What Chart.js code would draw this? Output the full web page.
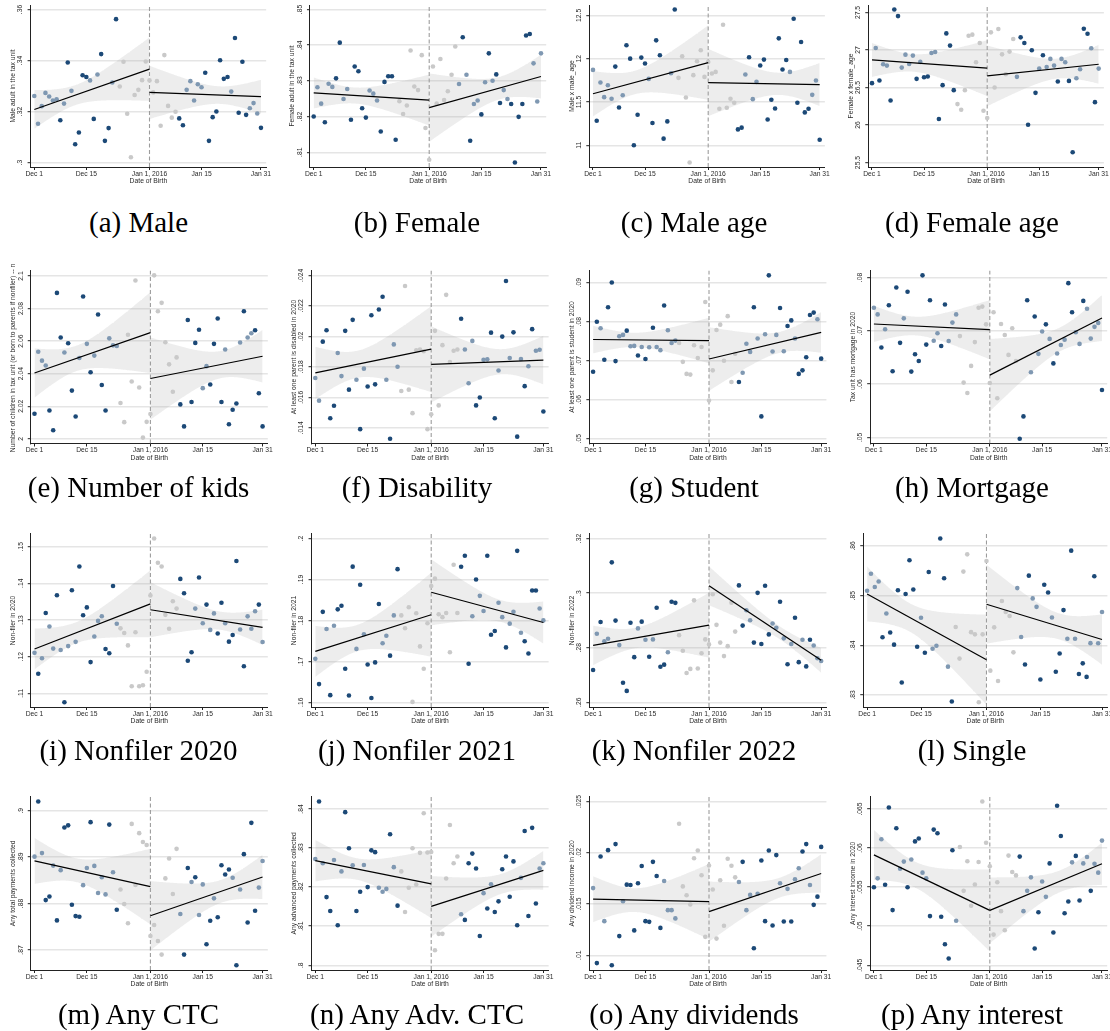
<!DOCTYPE html>
<html>
<head>
<meta charset="utf-8">
<script src="https://cdn.jsdelivr.net/npm/chart.js@4.4.1/dist/chart.umd.min.js"></script>
<style>
  html, body { margin: 0; padding: 0; background: #fff; }
  #page { position: relative; width: 1110px; height: 1031px; overflow: hidden; background: #fff; }
  #page canvas { position: absolute; }
  .cap {
    position: absolute; white-space: nowrap; color: #000;
    font-family: "Liberation Serif", "Times New Roman", serif;
    font-size: 29px; line-height: 29px; transform: translateX(-50%);
  }
</style>
</head>
<body>
<div id="page"></div>
<script>
// Day index: 0 = Dec 1, 31 = Jan 1 2016, 61 = Jan 31
const dayTicks = [0, 14, 31, 45, 61];
const dayTickLabels = ['Dec 1', 'Dec 15', 'Jan 1, 2016', 'Jan 15', 'Jan 31'];
const cutoffDay = 31;
const lastDay = 61;
const donutFirst = 23, donutLast = 38;   // days left out of the linear fits

// Daily means, Dec 1 .. Jan 31, and fitted lines [left start, left end, right start, right end]
const maleAdult = [.3261,.3152,.3221,.3273,.3259,.3243,.3248,.3166,.3231,.3392,.3281,.3072,.3118,.3342,.3335,.3322,.3171,.3345,.3425,.3085,.3135,.3314,.3562,.3298,.3395,.3191,.3021,.3265,.3285,.3323,.3396,
  .3322,.3275,.3319,.3144,.3421,.3222,.3176,.3199,.3173,.3146,.3285,.3319,.3243,.3307,.3295,.3352,.3085,.3178,.3200,.3401,.3328,.3335,.3278,.3488,.3195,.3395,.3187,.3213,.3233,.3192,.3136];
const maleAdultFit = [.3208, .3366, .3275, .3258];
const maleAdultTicks = [.30, .32, .34, .36];

const femaleAdult = [.8200,.8282,.8236,.8184,.8292,.8283,.8307,.8407,.8249,.8277,.8191,.8340,.8327,.8223,.8197,.8273,.8264,.8245,.8158,.8297,.8313,.8313,.8135,.8243,.8207,.8231,.8385,.8284,.8274,.8372,.8168,
  .8079,.8340,.8236,.8361,.8246,.8271,.8317,.8396,.8291,.8422,.8317,.8132,.8235,.8245,.8206,.8296,.8377,.8300,.8318,.8238,.8274,.8249,.8235,.8071,.8199,.8235,.8427,.8431,.8349,.8242,.8377];
const femaleAdultFit = [.8266, .8246, .8225, .8312];
const femaleAdultTicks = [.81, .82, .83, .84, .85];

const maleAge = [11.871,11.284,11.725,11.556,11.694,11.537,11.909,11.437,11.579,12.155,12.001,11.000,11.353,12.013,11.944,11.767,11.257,12.212,12.040,11.077,11.276,11.833,12.569,11.779,12.028,11.553,10.801,11.810,11.971,12.097,11.790,
  11.963,11.829,11.848,11.422,12.393,11.434,11.537,11.491,11.184,11.204,11.817,12.017,11.533,11.733,11.921,11.990,11.299,11.526,11.426,12.235,11.875,11.986,11.848,12.462,11.491,12.193,11.380,11.422,11.583,11.748,11.065];
const maleAgeFit = [11.595, 11.955, 11.725, 11.702];
const maleAgeTicks = [11, 11.5, 12, 12.5];

const femaleAge = [26.558,27.027,26.593,26.810,26.792,26.327,27.540,27.451,26.765,26.938,26.814,26.925,26.615,26.841,26.637,26.646,26.960,26.973,26.080,26.531,27.221,27.058,26.465,26.279,26.204,26.465,27.190,27.204,26.836,27.093,26.190,
  26.093,27.235,26.500,27.279,26.942,26.677,26.978,27.146,26.642,27.168,27.093,26.004,26.996,26.429,26.752,26.929,26.774,26.881,26.792,26.580,26.881,26.836,26.588,25.637,26.624,26.743,27.283,27.217,27.022,26.305,26.752];
const femaleAgeFit = [26.867, 26.757, 26.655, 26.810];
const femaleAgeTicks = [25.5, 26, 26.5, 27, 27.5];

const numKids = [2.0154,2.0535,2.0480,2.0450,2.0174,2.0052,2.0896,2.0622,2.0530,2.0587,2.0296,2.0137,2.0496,2.0874,2.0583,2.0409,2.0511,2.0763,2.0330,2.0174,2.0617,2.0574,2.0570,2.0220,2.0102,2.0639,2.0352,2.0972,2.0315,2.0007,2.0104,
  2.0152,2.1004,2.0783,2.0835,2.0593,2.0457,2.0289,2.0500,2.0211,2.0076,2.0730,2.0226,2.0589,2.0670,2.0311,2.0446,2.0333,2.0583,2.0739,2.0226,2.0548,2.0089,2.0178,2.0217,2.0591,2.0783,2.0622,2.0648,2.0667,2.0280,2.0076];
const numKidsFit = [2.0404, 2.0652, 2.0370, 2.0507];
const numKidsTicks = [2, 2.02, 2.04, 2.06, 2.08, 2.1];

const disabled = [.01727,.01578,.01965,.02040,.01463,.01545,.01891,.01739,.02036,.01650,.02108,.01715,.01391,.01788,.01671,.02138,.01685,.02176,.02260,.01715,.01328,.01947,.01800,.01641,.02330,.01650,.01496,.01909,.01914,.01902,.01391,
  .01489,.02036,.01547,.01942,.02272,.01832,.01905,.01914,.02115,.01914,.01692,.01970,.01547,.01599,.01846,.01849,.02024,.01463,.01776,.01998,.02363,.01858,.02026,.01342,.01851,.01673,.01804,.02047,.01905,.01912,.01507];
const disabledFit = [.01760, .01916, .01816, .01844];
const disabledTicks = [.014, .016, .018, .02, .022, .024];

const student = [.06718,.08000,.07836,.07027,.08373,.09009,.06991,.07627,.07664,.07773,.07373,.07382,.07136,.07355,.07045,.07345,.07845,.07355,.07273,.08418,.07782,.07455,.07518,.07455,.06973,.06664,.06645,.07400,.07073,.07355,.08509,
  .05982,.06755,.07791,.07927,.07000,.08145,.06455,.07182,.06455,.06691,.07436,.07227,.08373,.07573,.05573,.07682,.09191,.07236,.07664,.08355,.07245,.07891,.08036,.07573,.06664,.06755,.07091,.08173,.08236,.08064,.07055];
const studentFit = [.07545, .07518, .07045, .07727];
const studentTicks = [.05, .06, .07, .08, .09];

const mortgage = [.07433,.07307,.06687,.07027,.07480,.06240,.07813,.06773,.07233,.07733,.06233,.06560,.06433,.08040,.06740,.07573,.06813,.06953,.06713,.07493,.06807,.07153,.07307,.06900,.06027,.05833,.06340,.06787,.07433,.07453,.07120,
  .06020,.07347,.05733,.07127,.06920,.06547,.07047,.06433,.04973,.05393,.07573,.06220,.07267,.06567,.06987,.07120,.06847,.06387,.06573,.06733,.06833,.07893,.07347,.06973,.06753,.07560,.07413,.06853,.07073,.07147,.05887];
const mortgageFit = [.07127, .07020, .06167, .07240];
const mortgageTicks = [.05, .06, .07, .08];

const nonfiler2020 = [.12104,.11533,.11959,.13189,.12821,.12220,.13673,.12182,.10758,.12288,.13809,.12404,.14458,.13131,.13344,.11852,.12550,.12976,.13102,.12211,.12094,.13925,.12898,.12772,.12647,.12308,.11194,.12666,.11194,.11223,.11591,
  .1367,.1522,.1456,.1446,.1314,.1276,.1351,.1331,.1412,.1373,.1189,.1212,.1331,.1416,.1291,.1342,.1273,.1318,.1263,.1347,.1291,.1241,.1259,.1461,.1274,.1174,.1310,.1276,.1324,.1342,.1240];
const nonfiler2020Fit = [.1221, .1344, .1328, .1280];
const nonfiler2020Ticks = [.11, .12, .13, .14, .15];

const nonfiler2021 = [.17061,.16443,.18209,.17791,.16174,.17870,.18270,.18357,.16817,.16165,.19313,.17304,.18870,.17660,.16922,.16104,.16974,.18400,.17443,.17626,.17139,.18122,.19252,.18122,.17809,.18322,.16009,.18174,.17365,.16817,.17930,
  .1884,.1902,.1815,.1808,.1818,.1722,.1936,.1818,.1931,.1958,.1694,.1810,.1900,.1860,.1823,.1958,.1765,.1774,.1843,.1808,.1734,.1792,.1821,.1970,.1770,.1749,.1719,.1873,.1873,.1829,.1800];
const nonfiler2021Fit = [.17243, .18139, .18687, .17948];
const nonfiler2021Ticks = [.16, .17, .18, .19, .2];

const nonfiler2022 = [.27184,.28512,.28941,.28238,.28330,.31128,.28993,.28095,.26716,.26416,.28915,.27653,.28707,.28954,.28290,.27666,.28303,.29462,.27301,.27379,.27835,.29683,.29644,.28460,.27887,.27070,.27223,.29735,.27236,.27796,.28303,
  .28121,.29957,.28837,.28186,.27692,.28056,.29650,.28590,.30282,.28810,.29371,.29006,.28186,.30009,.28134,.30269,.28486,.28889,.28733,.29683,.28343,.27392,.28134,.29097,.27470,.28290,.27314,.28290,.28082,.27614,.27510];
const nonfiler2022Fit = [.28082, .28824, .30269, .27536];
const nonfiler2022Ticks = [.26, .28, .3, .32];

const single = [.85098,.85438,.85172,.85283,.84160,.84640,.84256,.84012,.85106,.83251,.85032,.85712,.85121,.83968,.84552,.83850,.85475,.83930,.83990,.86148,.85350,.83569,.82867,.84367,.83731,.85483,.85830,.84263,.84219,.82852,.84219,
  .85697,.83488,.84360,.83280,.84892,.84670,.84589,.83857,.85150,.84167,.83613,.85401,.84943,.84773,.83310,.85217,.85062,.84559,.83465,.83835,.84707,.84130,.85904,.84130,.83421,.83635,.83362,.84042,.85390,.84040,.84670];
const singleFit = [.85032, .83709, .84825, .84116];
const singleTicks = [.83, .84, .85, .86];

const anyCtc = [.89010,.90200,.89087,.88074,.88151,.88818,.87637,.88719,.89639,.89685,.87974,.87729,.87714,.88396,.88765,.89754,.88811,.88228,.88565,.88197,.89701,.88673,.87867,.88304,.87990,.87575,.89716,.88400,.89517,.89325,.89263,
  .87300,.87537,.87192,.86900,.88542,.88972,.88205,.89179,.87775,.86900,.88765,.88465,.88565,.87752,.88412,.87123,.87629,.88112,.87706,.88826,.88627,.88734,.88557,.86670,.88304,.89064,.87591,.89739,.87844,.88343,.88918];
const anyCtcFit = [.88918, .88366, .87737, .88573];
const anyCtcTicks = [.87, .88, .89, .9];

const anyAdvCtc = [.82721,.84192,.82612,.81744,.81388,.82694,.81023,.82402,.83918,.82995,.82557,.81388,.81881,.82566,.82000,.82941,.82895,.81982,.81881,.81954,.83352,.82511,.81525,.82402,.81361,.81982,.82995,.82064,.82877,.83890,.82886,
  .82900,.80384,.80804,.80804,.82220,.83590,.82612,.82785,.81306,.81160,.82612,.82858,.82475,.80749,.81845,.81452,.82073,.81361,.81635,.82457,.82785,.81753,.82658,.81023,.82237,.83434,.81260,.83516,.81580,.82475,.82612];
const anyAdvCtcFit = [.82676, .82082, .81507, .82429];
const anyAdvCtcTicks = [.8, .81, .82, .83, .84];

const anyDividends = [.01655,.00924,.01963,.01333,.02025,.00903,.02084,.01187,.01527,.01689,.01686,.01243,.01703,.01870,.01333,.01326,.01911,.01773,.01267,.01724,.01440,.01440,.01360,.02282,.01672,.01585,.01495,.01946,.02022,.01780,.01180,
  .01876,.01641,.01163,.01731,.01288,.01942,.01873,.01760,.01714,.01911,.01440,.01589,.01069,.01600,.01925,.01333,.02022,.01291,.01977,.01703,.01329,.01648,.01329,.01741,.01849,.02012,.02084,.01686,.01492,.01572,.02057];
const anyDividendsFit = [.01547, .01523, .01426, .01797];
const anyDividendsTicks = [.01, .015, .02, .025];

const anyInterest = [.05498,.05612,.06113,.05530,.06518,.05206,.06254,.05735,.05826,.05498,.05853,.06085,.06122,.05685,.05612,.05129,.06236,.06190,.05120,.04769,.04587,.05972,.05070,.06013,.05452,.05830,.05261,.05534,.05821,.06596,.06067,
  .05767,.04892,.05562,.05192,.04947,.05903,.05694,.05650,.05890,.05192,.05452,.05625,.04714,.05179,.05571,.05375,.05803,.04919,.06541,.06154,.05165,.05315,.05817,.05899,.05329,.05803,.05885,.05452,.05798,.05685,.06095];
const anyInterestFit = [.05912, .05202, .05202, .05798];
const anyInterestTicks = [.045, .05, .055, .06, .065];

// ---- page layout ----
const X_MIN = -1, X_MAX = 62.4;
const rows = [
  { top: 5,     bottom: 167,   base: 232 },
  { top: 270.6, bottom: 443.5, base: 497 },
  { top: 533.8, bottom: 707,   base: 760 },
  { top: 796.7, bottom: 970,   base: 1024 }
];
const captionCenters = [138.5, 417, 694, 972];

const panels = [
  { cap: '(a) Male',         title: 'Male adult in the tax unit',   vals: maleAdult,    fit: maleAdultFit,    ticks: maleAdultTicks,    row: 0, col: 0, x0: 34.3,  ppd: 3.716 },
  { cap: '(b) Female',       title: 'Female adult in the tax unit', vals: femaleAdult,  fit: femaleAdultFit,  ticks: femaleAdultTicks,  row: 0, col: 1, x0: 313.7, ppd: 3.726 },
  { cap: '(c) Male age',     title: 'Male x male_age',              vals: maleAge,      fit: maleAgeFit,      ticks: maleAgeTicks,      row: 0, col: 2, x0: 593,   ppd: 3.716 },
  { cap: '(d) Female age',   title: 'Female x female_age',          vals: femaleAge,    fit: femaleAgeFit,    ticks: femaleAgeTicks,    row: 0, col: 3, x0: 872,   ppd: 3.716 },
  { cap: '(e) Number of kids', title: 'Number of children in tax unit (or born to parents if nonfiler) -- m', vals: numKids, fit: numKidsFit, ticks: numKidsTicks, row: 1, col: 0, x0: 34.5, ppd: 3.739 },
  { cap: '(f) Disability',   title: 'At least one parent is disabled in 2020', vals: disabled, fit: disabledFit, ticks: disabledTicks, row: 1, col: 1, x0: 315.3, ppd: 3.739 },
  { cap: '(g) Student',      title: 'At least one parent is student in 2020',  vals: student,  fit: studentFit,  ticks: studentTicks,  row: 1, col: 2, x0: 593.1, ppd: 3.739 },
  { cap: '(h) Mortgage',     title: 'Tax unit has mortgage in 2020', vals: mortgage,    fit: mortgageFit,     ticks: mortgageTicks,     row: 1, col: 3, x0: 873.9, ppd: 3.739 },
  { cap: '(i) Nonfiler 2020', title: 'Non-filer in 2020',           vals: nonfiler2020, fit: nonfiler2020Fit, ticks: nonfiler2020Ticks, row: 2, col: 0, x0: 34.5,  ppd: 3.739 },
  { cap: '(j) Nonfiler 2021', title: 'Non-filer in 2021',           vals: nonfiler2021, fit: nonfiler2021Fit, ticks: nonfiler2021Ticks, row: 2, col: 1, x0: 315.3, ppd: 3.739 },
  { cap: '(k) Nonfiler 2022', title: 'Non-filer in 2022',           vals: nonfiler2022, fit: nonfiler2022Fit, ticks: nonfiler2022Ticks, row: 2, col: 2, x0: 593.1, ppd: 3.739 },
  { cap: '(l) Single',       title: '',                             vals: single,       fit: singleFit,       ticks: singleTicks,       row: 2, col: 3, x0: 867.1, ppd: 3.851 },
  { cap: '(m) Any CTC',      title: 'Any total payments collected', vals: anyCtc,       fit: anyCtcFit,       ticks: anyCtcTicks,       row: 3, col: 0, x0: 34.5,  ppd: 3.739 },
  { cap: '(n) Any Adv. CTC', title: 'Any advanced payments collected', vals: anyAdvCtc, fit: anyAdvCtcFit,    ticks: anyAdvCtcTicks,    row: 3, col: 1, x0: 315.3, ppd: 3.739 },
  { cap: '(o) Any dividends', title: 'Any dividend income in 2020', vals: anyDividends, fit: anyDividendsFit, ticks: anyDividendsTicks, row: 3, col: 2, x0: 593.1, ppd: 3.739 },
  { cap: '(p) Any interest', title: 'Any interest income in 2020',  vals: anyInterest,  fit: anyInterestFit,  ticks: anyInterestTicks,  row: 3, col: 3, x0: 873.9, ppd: 3.739 }
];

// ---- styling ----
const SANS = '"Liberation Sans", Arial, Helvetica, sans-serif';
const FS = 6.75;
const TEXT = '#2b2b2b';
const DARK = '#1c4977';
const MID = '#7f98b2';
const LIGHT = '#c9c9c9';
const BAND = 'rgba(170,170,170,0.21)';

function mean(a) { return a.reduce((s, v) => s + v, 0) / a.length; }

// Standard error of a fitted linear mean at day d (residual variance from OLS on the side's days)
function seFunction(days, vals) {
  const n = days.length, mx = mean(days), my = mean(vals);
  let sxx = 0, sxy = 0;
  for (let i = 0; i < n; i++) { sxx += (days[i] - mx) ** 2; sxy += (days[i] - mx) * (vals[i] - my); }
  const b = sxy / sxx, a = my - b * mx;
  let ssr = 0;
  for (let i = 0; i < n; i++) ssr += (vals[i] - a - b * days[i]) ** 2;
  const s2 = ssr / (n - 2);
  return d => Math.sqrt(s2 * (1 / n + (d - mx) ** 2 / sxx));
}

function fmtTick(v) { return String(+v.toFixed(6)).replace(/^0\./, '.'); }

const yLabelPlugin = {
  id: 'yLabels',
  afterDraw(chart, args, opts) {
    const { ctx, chartArea } = chart;
    const y = chart.scales.y;
    ctx.save();
    ctx.font = FS + 'px ' + SANS;
    ctx.fillStyle = TEXT;
    ctx.textBaseline = 'middle';
    ctx.textAlign = 'center';
    for (const t of y.ticks) {
      const py = y.getPixelForValue(t.value);
      ctx.save();
      ctx.translate(chartArea.left - 10, py);
      ctx.rotate(-Math.PI / 2);
      ctx.fillText(fmtTick(t.value), 0, 0);
      ctx.restore();
    }
    if (opts.title) {
      const h = chartArea.bottom - chartArea.top;
      const w = ctx.measureText(opts.title).width;
      ctx.save();
      if (w > h + 40) {
        ctx.translate(chartArea.left - 17.5, chartArea.bottom + 22.5);
        ctx.textAlign = 'left';
      } else {
        ctx.translate(chartArea.left - 17.5, (chartArea.top + chartArea.bottom) / 2);
      }
      ctx.rotate(-Math.PI / 2);
      ctx.fillText(opts.title, 0, 0);
      ctx.restore();
    }
    ctx.restore();
  }
};

const page = document.getElementById('page');

panels.forEach(p => {
  const r = rows[p.row];
  const days = p.vals.map((_, i) => i);
  const f = p.fit;

  // fitted lines on each side of the cutoff; the days near it are left out of the fits
  const lIdx = days.filter(d => d < donutFirst);
  const rIdx = days.filter(d => d > donutLast);
  const left = {
    at: d => f[0] + (f[1] - f[0]) * d / cutoffDay,
    se: seFunction(lIdx, lIdx.map(d => p.vals[d]))
  };
  const right = {
    at: d => f[2] + (f[3] - f[2]) * (d - cutoffDay) / (lastDay - cutoffDay),
    se: seFunction(rIdx, rIdx.map(d => p.vals[d]))
  };

  const band = (fit, d0, d1) => {
    const lo = [], hi = [];
    for (let d = d0; d <= d1 + 1e-9; d += 0.25) {
      const c = fit.at(d), h = 1.645 * fit.se(d);
      lo.push({ x: d, y: c - h }); hi.push({ x: d, y: c + h });
    }
    return { lo, hi };
  };
  const bandL = band(left, 0, cutoffDay);
  const bandR = band(right, cutoffDay, lastDay);

  const pts = p.vals.map((v, d) => ({ x: d, y: v }));
  const colors = p.vals.map((v, d) => {
    if (d >= donutFirst && d <= donutLast) return LIGHT;
    const side = d < cutoffDay ? left : right;
    return Math.abs(v - side.at(d)) > 1.96 * side.se(d) ? DARK : MID;
  });

  const lo = Math.min(...p.vals, p.ticks[0]);
  const hi = Math.max(...p.vals, p.ticks[p.ticks.length - 1]);
  const pad = 0.029 * (hi - lo);
  const yMin = lo - pad, yMax = hi + pad;

  // canvas geometry around the plot area
  const plotLeft = p.x0 - p.ppd * (0 - X_MIN);
  const plotW = (X_MAX - X_MIN) * p.ppd;
  const plotH = r.bottom - r.top;
  const cl = Math.floor(plotLeft - 36);
  const ct = Math.floor(r.top - 6);
  const axW = plotLeft - cl;
  const padTop = r.top - ct;
  const cw = Math.ceil(axW + plotW + 14);
  const ch = Math.ceil(padTop + plotH + 30);
  const padRight = cw - axW - plotW;
  const xAxisH = 18.6;
  const padBottom = ch - padTop - plotH - xAxisH;

  const canvas = document.createElement('canvas');
  canvas.width = cw; canvas.height = ch;
  canvas.style.left = cl + 'px'; canvas.style.top = ct + 'px';
  canvas.style.width = cw + 'px'; canvas.style.height = ch + 'px';
  page.appendChild(canvas);

  const noPt = { pointRadius: 0, pointHoverRadius: 0 };
  new Chart(canvas, {
    type: 'scatter',
    data: {
      datasets: [
        { type: 'line', data: bandL.lo, borderWidth: 0, fill: false, order: 5, ...noPt },
        { type: 'line', data: bandL.hi, borderWidth: 0, fill: '-1', backgroundColor: BAND, order: 5, ...noPt },
        { type: 'line', data: bandR.lo, borderWidth: 0, fill: false, order: 5, ...noPt },
        { type: 'line', data: bandR.hi, borderWidth: 0, fill: '-1', backgroundColor: BAND, order: 5, ...noPt },
        { type: 'line', data: [{ x: cutoffDay, y: yMin }, { x: cutoffDay, y: yMax }], borderColor: '#9c9c9c',
          borderWidth: 1.1, borderDash: [4, 2.5], fill: false, order: 4, ...noPt },
        { type: 'scatter', data: pts, pointBackgroundColor: colors, pointBorderWidth: 0,
          pointRadius: 2.3, pointHoverRadius: 2.3, order: 1 },
        { type: 'line', data: [{ x: 0, y: f[0] }, { x: cutoffDay, y: f[1] }],
          borderColor: '#000', borderWidth: 1.2, fill: false, order: 0, ...noPt },
        { type: 'line', data: [{ x: cutoffDay, y: f[2] }, { x: lastDay, y: f[3] }],
          borderColor: '#000', borderWidth: 1.2, fill: false, order: 0, ...noPt }
      ]
    },
    options: {
      responsive: false, animation: false, devicePixelRatio: 1, events: [],
      layout: { padding: { left: 0, top: padTop, right: padRight, bottom: padBottom } },
      plugins: { legend: { display: false }, tooltip: { enabled: false },
                 yLabels: { title: p.title } },
      scales: {
        x: {
          type: 'linear', min: X_MIN, max: X_MAX,
          afterBuildTicks: s => { s.ticks = dayTicks.map(v => ({ value: v })); },
          afterFit: s => { s.height = xAxisH; },
          ticks: { autoSkip: false, maxRotation: 0, minRotation: 0, padding: 0, color: TEXT,
                   font: { family: SANS, size: FS },
                   callback: (v, i) => dayTickLabels[i] },
          grid: { drawOnChartArea: false, drawTicks: true, tickLength: 3, tickColor: '#222', tickWidth: 1 },
          border: { display: true, color: '#222', width: 1 },
          title: { display: true, text: 'Date of Birth', color: TEXT, padding: { top: 0, bottom: 0 },
                   font: { family: SANS, size: FS } }
        },
        y: {
          type: 'linear', min: yMin, max: yMax,
          afterBuildTicks: s => { s.ticks = p.ticks.map(v => ({ value: v })); },
          afterFit: s => { s.width = axW; },
          ticks: { display: false },
          grid: { color: '#e5e5e5', lineWidth: 1.4, drawTicks: true, tickLength: 3, tickColor: '#222', tickWidth: 1 },
          border: { display: true, color: '#222', width: 1 }
        }
      }
    },
    plugins: [yLabelPlugin]
  });

  const cap = document.createElement('div');
  cap.className = 'cap';
  cap.textContent = p.cap;
  cap.style.left = captionCenters[p.col] + 'px';
  cap.style.top = (r.base - 24.3) + 'px';
  page.appendChild(cap);
});
</script>
</body>
</html>
